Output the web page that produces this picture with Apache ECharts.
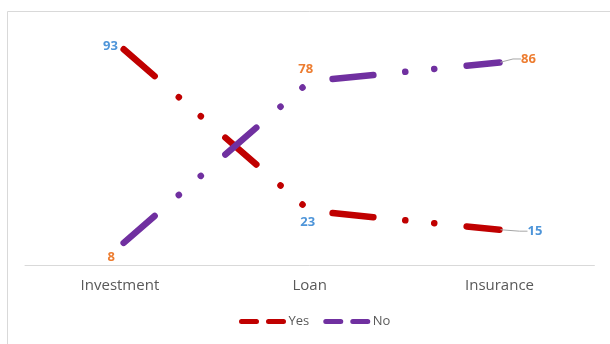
<!DOCTYPE html>
<html>
<head>
<meta charset="utf-8">
<title>Yes / No by product</title>
<script src="https://cdn.jsdelivr.net/npm/echarts@6/dist/echarts.min.js"></script>
<style>
  html, body { margin: 0; padding: 0; background: #ffffff; }
  #chart { width: 610px; height: 344px; }
</style>
</head>
<body>
<div id="chart"></div>
<script>
// Categories and answer counts per product
const categories = ['Investment', 'Loan', 'Insurance'];
const yesValues = [93, 23, 15];
const noValues = [8, 78, 86];

// Colours
const YES_COLOR = '#C00000';
const NO_COLOR = '#7030A0';
const YES_LABEL_COLOR = '#4E95D9';
const NO_LABEL_COLOR = '#ED7D31';
const LEADER_COLOR = '#A6A6A6';

// Long dash, dot, dot pattern shared by both series
const LINE_WIDTH = 6.5;
const DASH_PATTERN = [41, 32, 0.1, 29, 0.1, 32.5];
const DASH_OFFSET = -5;

// Label placement per point (Yes labels sit left/below, No labels left/above).
// The last label of each series is pulled out and tied back with a leader line.
const yesLabelPlacement = [
  { position: 'left', distance: 1, dx: 0, dy: 0 },
  { position: 'bottom', distance: 4, dx: -2, dy: 0 },
  { position: 'right', distance: 0, dx: 22, dy: 1.5, leader: true }
];
const noLabelPlacement = [
  { position: 'left', distance: 4, dx: 0, dy: 11 },
  { position: 'top', distance: 5, dx: -4, dy: 0 },
  { position: 'right', distance: 0, dx: 15.5, dy: -3.5, leader: true }
];

function buildData(values, placement, labelColor) {
  return values.map(function (v, i) {
    const p = placement[i];
    return {
      value: v,
      label: {
        position: p.position,
        distance: p.distance,
        color: labelColor,
        padding: p.leader ? [2, 5] : 0
      },
      labelLine: {
        show: !!p.leader,
        length2: 8,
        lineStyle: { color: LEADER_COLOR, width: 1 }
      }
    };
  });
}

function labelShift(placement) {
  return function (params) {
    const p = placement[params.dataIndex];
    return p ? { dx: p.dx, dy: p.dy } : {};
  };
}

function makeSeries(name, values, color, labelColor, placement) {
  return {
    name: name,
    type: 'line',
    data: buildData(values, placement, labelColor),
    symbol: 'circle',
    symbolSize: 2,
    itemStyle: { color: 'rgba(0,0,0,0)' },
    lineStyle: {
      color: color,
      width: LINE_WIDTH,
      type: DASH_PATTERN,
      dashOffset: DASH_OFFSET,
      cap: 'round',
      join: 'round'
    },
    label: {
      show: true,
      fontFamily: 'Open Sans',
      fontSize: 13,
      fontWeight: 'bold',
      color: labelColor
    },
    labelLayout: labelShift(placement),
    emphasis: { disabled: true },
    silent: true
  };
}

const chart = echarts.init(document.getElementById('chart'), null, { renderer: 'canvas' });

chart.setOption({
  animation: false,
  backgroundColor: '#ffffff',
  graphic: [{
    type: 'rect',
    silent: true,
    z: -10,
    shape: { x: 7.5, y: 11.5, width: 700, height: 500 },
    style: { fill: 'none', stroke: '#D9D9D9', lineWidth: 1 }
  }],
  grid: { left: 25, right: 15.6, top: 29.5, bottom: 79, containLabel: false },
  xAxis: {
    type: 'category',
    data: categories,
    boundaryGap: true,
    axisLine: { lineStyle: { color: '#D9D9D9', width: 1 } },
    axisTick: { show: false },
    axisLabel: {
      color: '#595959',
      fontFamily: 'Open Sans',
      fontSize: 15,
      margin: 13
    },
    splitLine: { show: false }
  },
  yAxis: {
    type: 'value',
    min: 0,
    max: 100,
    show: false,
    splitLine: { show: false }
  },
  legend: {
    left: 239,
    top: 315,
    padding: 0,
    itemWidth: 42,
    itemHeight: 14,
    itemGap: 14,
    data: ['Yes', 'No'],
    textStyle: { color: '#595959', fontFamily: 'Open Sans', fontSize: 13 },
    lineStyle: { width: 5, type: [15, 12], cap: 'round', dashOffset: 0 },
    selectedMode: false
  },
  series: [
    makeSeries('Yes', yesValues, YES_COLOR, YES_LABEL_COLOR, yesLabelPlacement),
    makeSeries('No', noValues, NO_COLOR, NO_LABEL_COLOR, noLabelPlacement)
  ]
});
</script>
</body>
</html>
